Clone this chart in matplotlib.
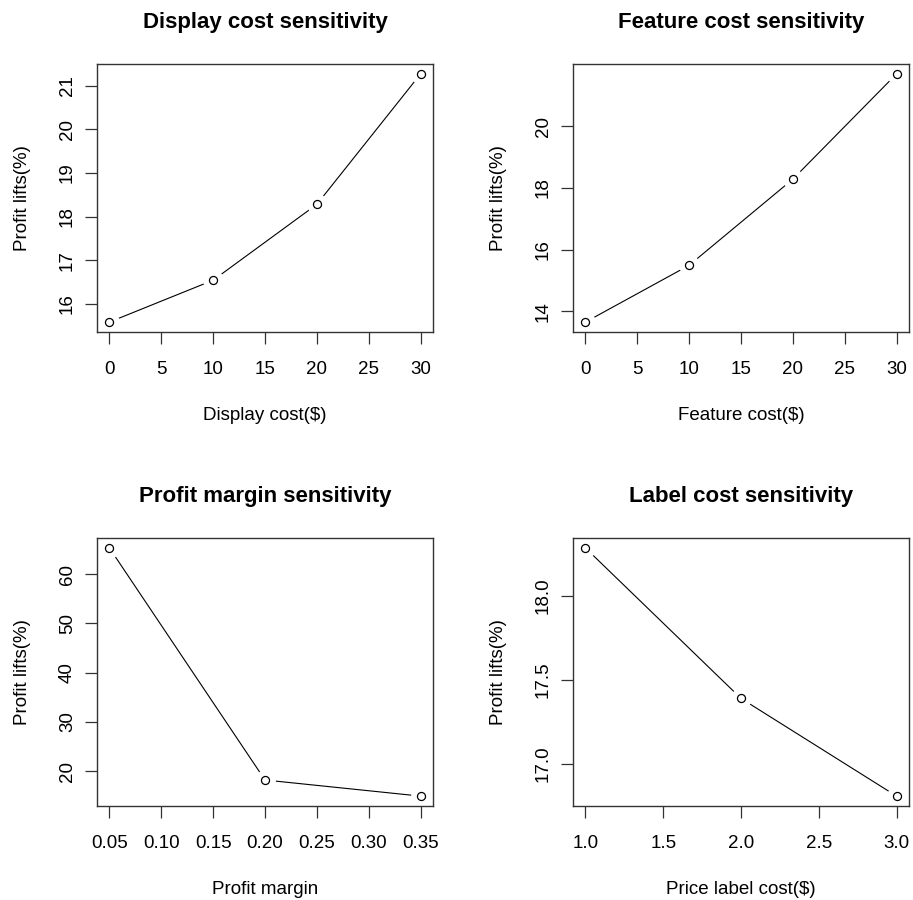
import matplotlib
matplotlib.use("Agg")
import matplotlib.pyplot as plt
import numpy as np

plt.rcParams['font.family'] = ['Liberation Sans', 'DejaVu Sans']

# data
display_cost = [0, 10, 20, 30]
display_lift = [15.58, 16.54, 18.28, 21.27]

feature_cost = [0, 10, 20, 30]
feature_lift = [13.65, 15.49, 18.28, 21.69]

profit_margin = [0.05, 0.20, 0.35]
margin_lift = [65.3, 18.17, 14.9]

label_cost = [1.0, 2.0, 3.0]
label_lift = [18.283, 17.39, 16.81]

panels = [
    ("Display cost sensitivity", "Display cost($)", display_cost, display_lift,
     np.arange(0, 31, 5), np.arange(16, 22, 1), "{:g}", "{:g}"),
    ("Feature cost sensitivity", "Feature cost($)", feature_cost, feature_lift,
     np.arange(0, 31, 5), np.arange(14, 21, 2), "{:g}", "{:g}"),
    ("Profit margin sensitivity", "Profit margin", profit_margin, margin_lift,
     np.arange(0.05, 0.36, 0.05), np.arange(20, 61, 10), "{:.2f}", "{:g}"),
    ("Label cost sensitivity", "Price label cost($)", label_cost, label_lift,
     np.arange(1.0, 3.01, 0.5), np.arange(17.0, 18.01, 0.5), "{:.1f}", "{:.1f}"),
]

# axes boxes in figure fractions (left, bottom, width, height)
boxes = [
    (0.1062, 0.6311, 0.3681, 0.2978),
    (0.6276, 0.6311, 0.3680, 0.2978),
    (0.1062, 0.1044, 0.3681, 0.2978),
    (0.6276, 0.1044, 0.3680, 0.2978),
]

fig = plt.figure(figsize=(9.13, 9.0), dpi=100)

for (title, xlabel, xs, ys, xt, yt, xfmt, yfmt), box in zip(panels, boxes):
    ax = fig.add_axes(box)
    # R-style type="b": line with gaps around open circles
    ax.plot(xs, ys, color="black", lw=0.8, zorder=1)
    ax.plot(xs, ys, ls="none", marker="o", ms=15, mfc="white", mec="none", zorder=2)
    ax.plot(xs, ys, ls="none", marker="o", ms=5.8, mfc="white", mec="black",
            mew=0.9, zorder=3)

    xr = max(xs) - min(xs)
    yr = max(ys) - min(ys)
    ax.set_xlim(min(xs) - 0.04 * xr, max(xs) + 0.04 * xr)
    ax.set_ylim(min(ys) - 0.04 * yr, max(ys) + 0.04 * yr)

    ax.set_xticks(xt)
    ax.set_xticklabels([xfmt.format(v) for v in xt])
    ax.set_yticks(yt)
    ax.set_yticklabels([yfmt.format(v) for v in yt], rotation=90, va="center")

    ax.tick_params(axis="both", direction="out", length=8.6, width=0.9,
                   labelsize=13.5, color="#333333")
    ax.tick_params(axis="x", pad=12)
    ax.tick_params(axis="y", pad=6.5)
    for s in ax.spines.values():
        s.set_linewidth(1.0)
        s.set_color("#333333")

    ax.set_title(title, fontsize=16, fontweight="bold", pad=26)
    ax.set_xlabel(xlabel, fontsize=13.5, labelpad=21)
    ax.set_ylabel("Profit lifts(%)", fontsize=13.5, labelpad=20)

fig.savefig("out.png", dpi=100)
